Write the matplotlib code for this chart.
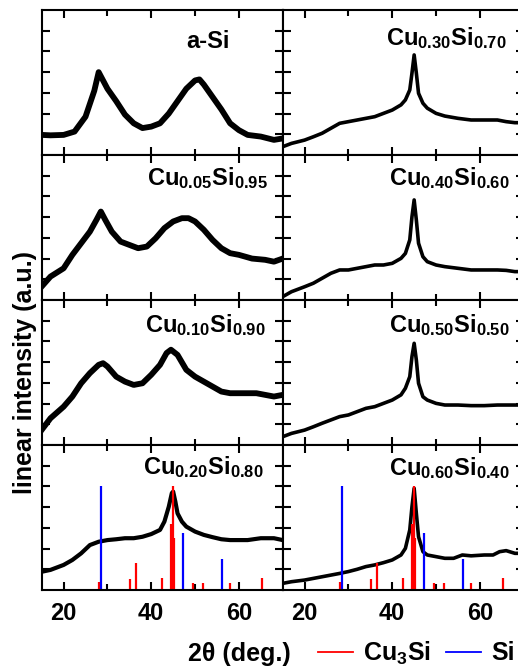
import numpy as np
import matplotlib.pyplot as plt
from matplotlib.lines import Line2D

plt.rcParams['font.family'] = ['Liberation Sans', 'DejaVu Sans']
plt.rcParams['font.weight'] = 'bold'
plt.rcParams['mathtext.fontset'] = 'custom'
plt.rcParams['mathtext.rm'] = 'Liberation Sans:bold'
plt.rcParams['mathtext.it'] = 'Liberation Sans:bold'
plt.rcParams['mathtext.bf'] = 'Liberation Sans:bold'

# reference stick patterns: 2theta and relative intensity (%)
cu3si_pos = [28.05, 35.1, 36.6, 42.5, 44.5, 44.9, 45.2, 49.5, 51.8, 57.9, 65.2]
cu3si_int = [8, 11, 26, 12, 64, 100, 50, 7, 7, 7, 12]
si_pos = [28.44, 47.30, 56.12]
si_int = [100, 55, 30]

# measured patterns (2theta, intensity in arb. units)
tt_asi = [15, 17, 20, 22.5, 25, 27, 28, 29, 30, 32, 34, 36, 38, 40, 42, 44, 46, 48, 50, 51, 52, 54, 56, 58, 60, 62, 65, 68, 70]
i_asi = [0.97, 0.95, 0.97, 1.13, 1.85, 3.1, 4.0, 3.6, 3.2, 2.6, 1.95, 1.53, 1.3, 1.37, 1.53, 2.0, 2.6, 3.2, 3.6, 3.65, 3.4, 2.8, 2.2, 1.53, 1.2, 0.97, 0.89, 0.73, 0.8]

tt_05 = [15, 17, 20, 22, 24, 26, 27.5, 28.5, 29.5, 31, 33, 35, 37, 39, 41, 43, 45, 47, 48.5, 50, 52, 54, 56, 58, 60, 63, 66, 68, 70]
i_05 = [0.65, 1.13, 1.53, 2.18, 2.74, 3.3, 3.87, 4.27, 3.87, 3.3, 2.82, 2.66, 2.5, 2.58, 2.98, 3.47, 3.79, 3.95, 3.95, 3.79, 3.39, 2.9, 2.5, 2.26, 2.18, 2.0, 1.94, 1.85, 2.0]

tt_10 = [15, 17, 20, 22, 24, 26, 28, 29, 30, 32, 34, 36, 38, 40, 42, 43.5, 44.5, 46, 48, 50, 52, 54, 56, 58, 60, 62, 64, 66, 68, 70]
i_10 = [0.73, 1.29, 1.85, 2.34, 2.98, 3.47, 3.87, 3.95, 3.79, 3.3, 3.06, 2.9, 2.98, 3.39, 3.87, 4.44, 4.6, 4.35, 3.63, 3.3, 3.06, 2.82, 2.58, 2.5, 2.5, 2.5, 2.5, 2.42, 2.34, 2.42]

tt_20 = [15, 17, 20, 22, 24, 26, 28, 30, 32, 34, 36, 38, 40, 42, 43, 44, 44.7, 45, 45.5, 46, 47, 48, 50, 52, 54, 56, 58, 60, 62, 65, 68, 70]
i_20 = [0.88, 0.97, 1.21, 1.45, 1.77, 2.17, 2.33, 2.41, 2.45, 2.5, 2.5, 2.57, 2.7, 2.9, 3.3, 4.02, 4.68, 4.75, 4.27, 3.7, 3.3, 3.06, 2.82, 2.66, 2.55, 2.45, 2.41, 2.41, 2.41, 2.5, 2.5, 2.41]

tt_cryst = [15, 17, 20, 22, 24, 26, 28, 30, 32, 34, 36, 38, 40, 42, 43, 44, 44.5, 45, 45.5, 46, 47, 48, 50, 52, 55, 58, 61, 64, 66, 68, 70]
i_30 = [0.4, 0.56, 0.72, 0.88, 1.05, 1.29, 1.53, 1.61, 1.69, 1.77, 1.85, 2.01, 2.17, 2.42, 2.66, 3.14, 3.95, 4.83, 3.95, 2.98, 2.5, 2.26, 2.01, 1.88, 1.77, 1.69, 1.69, 1.69, 1.61, 1.56, 1.56]
i_40 = [0.16, 0.4, 0.64, 0.81, 1.05, 1.29, 1.45, 1.45, 1.53, 1.61, 1.69, 1.69, 1.77, 2.01, 2.25, 2.9, 4.02, 4.83, 3.86, 2.74, 2.09, 1.85, 1.69, 1.61, 1.53, 1.45, 1.45, 1.45, 1.43, 1.37, 1.37]
i_50 = [0.4, 0.56, 0.72, 0.88, 1.05, 1.21, 1.37, 1.45, 1.61, 1.77, 1.85, 2.01, 2.17, 2.42, 2.74, 3.3, 4.27, 4.91, 4.1, 2.98, 2.33, 2.17, 2.01, 1.93, 1.93, 1.9, 1.9, 1.93, 1.93, 1.93, 1.93]

tt_60 = [15, 17, 20, 22, 24, 26, 28, 30, 32, 34, 36, 38, 40, 42, 43, 44, 44.5, 45, 45.5, 46, 47, 48, 50, 52, 54, 56, 58, 61, 63, 64.5, 66, 68, 70]
i_60 = [0.32, 0.4, 0.48, 0.56, 0.64, 0.72, 0.8, 0.89, 1.0, 1.13, 1.21, 1.32, 1.45, 1.69, 2.01, 2.9, 4.02, 4.91, 3.7, 2.57, 1.85, 1.69, 1.61, 1.53, 1.53, 1.69, 1.65, 1.69, 1.69, 1.85, 1.9, 1.77, 1.77]

labels = ['a-Si', r'Cu$_{0.05}$Si$_{0.95}$', r'Cu$_{0.10}$Si$_{0.90}$', r'Cu$_{0.20}$Si$_{0.80}$',
          r'Cu$_{0.30}$Si$_{0.70}$', r'Cu$_{0.40}$Si$_{0.60}$', r'Cu$_{0.50}$Si$_{0.50}$', r'Cu$_{0.60}$Si$_{0.40}$']

panels = [(tt_asi, i_asi), (tt_05, i_05), (tt_10, i_10), (tt_20, i_20),
          (tt_cryst, i_30), (tt_cryst, i_40), (tt_cryst, i_50), (tt_60, i_60)]

# label placement (axes fraction: right edge, baseline) and trace widths
label_xy = [(0.78, 0.74), (0.94, 0.79), (0.93, 0.78), (0.92, 0.80),
            (0.93, 0.76), (0.94, 0.79), (0.94, 0.78), (0.94, 0.79)]
line_w = [4.2, 4.2, 4.2, 3.0, 2.6, 2.6, 2.6, 2.6]
show_sticks = [False, False, False, True, False, False, False, True]

W, H = 518, 667
fig = plt.figure(figsize=(W / 100, H / 100), dpi=100)

col_left = [41.7, 282.7]
row_top = [10, 155, 300, 445]
pw, ph = 241, 145

for k, (tt, inten) in enumerate(panels):
    col, row = divmod(k, 4)
    ax = fig.add_axes([col_left[col] / W, 1 - (row_top[row] + ph) / H, pw / W, ph / H])
    ax.plot(tt, inten, color='black', lw=line_w[k], solid_joinstyle='round')
    if show_sticks[k]:
        ax.vlines(cu3si_pos, 0, np.array(cu3si_int) * 0.05, color='red', lw=1.6)
        ax.vlines(si_pos, 0, np.array(si_int) * 0.05, color='blue', lw=1.6)
    ax.text(label_xy[k][0], label_xy[k][1], labels[k], transform=ax.transAxes,
            ha='right', va='baseline', fontsize=17, fontweight='bold')
    ax.set_xlim(15, 70)
    ax.set_ylim(0, 7)
    ax.set_xticks([20, 40, 60])
    ax.set_xticks([30, 50], minor=True)
    ax.set_yticks([1, 2, 3, 4, 5, 6])
    ax.tick_params(which='both', direction='in', top=True, right=True, width=1.5,
                   labelleft=False, labelsize=17, pad=9)
    ax.tick_params(which='major', length=6)
    ax.tick_params(which='minor', length=4)
    ax.tick_params(labelbottom=(row == 3))
    for s in ax.spines.values():
        s.set_linewidth(1.5)

fig.text(25 / W, 1 - 373 / H, 'linear intensity (a.u.)', rotation=90,
         ha='center', va='center', fontsize=18, fontweight='bold')
fig.text(239 / W, 1 - 654 / H, '2θ (deg.)', ha='center', va='center',
         fontsize=18, fontweight='bold')

handles = [Line2D([], [], color='red', lw=1.3), Line2D([], [], color='blue', lw=1.3)]
fig.legend(handles, [r'Cu$_3$Si', 'Si'], loc='center left', ncol=2,
           bbox_to_anchor=(318 / W, 1 - 653 / H), frameon=False, fontsize=18,
           borderpad=0, borderaxespad=0, handlelength=1.4, handletextpad=0.4,
           columnspacing=0.6)

fig.savefig('out.png', dpi=100)
